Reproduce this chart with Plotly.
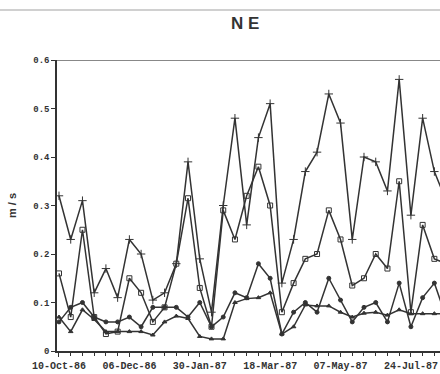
import plotly.graph_objects as go

# sample index (irregular sampling dates, labelled every 6th sample)
idx = list(range(34))
tick_idx = [0, 6, 12, 18, 24, 30]
tick_labels = ["10-Oct-86", "06-Dec-86", "30-Jan-87", "18-Mar-87", "07-May-87", "24-Jul-87"]
y_ticks = [0, 0.1, 0.2, 0.3, 0.4, 0.5, 0.6]

series_a = [0.32, 0.23, 0.31, 0.12, 0.17, 0.11, 0.23, 0.20, 0.105, 0.12, 0.18, 0.39, 0.19, 0.08,
            0.30, 0.48, 0.26, 0.44, 0.51, 0.14, 0.23, 0.37, 0.41, 0.53, 0.47, 0.23, 0.40, 0.39,
            0.33, 0.56, 0.28, 0.48, 0.37, 0.31]
series_b = [0.16, 0.07, 0.25, 0.07, 0.035, 0.04, 0.15, 0.12, 0.06, 0.09, 0.18, 0.315, 0.13, 0.05,
            0.29, 0.23, 0.32, 0.38, 0.30, 0.08, 0.14, 0.19, 0.20, 0.29, 0.23, 0.135, 0.15, 0.20,
            0.17, 0.35, 0.08, 0.26, 0.19, 0.18]
series_c = [0.06, 0.09, 0.10, 0.07, 0.06, 0.06, 0.07, 0.05, 0.09, 0.09, 0.09, 0.07, 0.10, 0.05,
            0.07, 0.12, 0.11, 0.18, 0.15, 0.035, 0.08, 0.10, 0.08, 0.15, 0.105, 0.06, 0.09, 0.10,
            0.06, 0.14, 0.05, 0.11, 0.14, 0.07]
series_d = [0.07, 0.04, 0.085, 0.065, 0.04, 0.04, 0.04, 0.04, 0.033, 0.06, 0.072, 0.067, 0.03, 0.025,
            0.025, 0.10, 0.108, 0.11, 0.12, 0.035, 0.05, 0.095, 0.093, 0.093, 0.08, 0.07, 0.078, 0.08,
            0.074, 0.085, 0.077, 0.077, 0.077, 0.077]

ink = "#333333"
fig = go.Figure()
styles = [
    (series_a, "cross-thin", 6),
    (series_b, "square-open", 5),
    (series_c, "circle", 4),
    (series_d, "triangle-up", 4),
]
for vals, sym, sz in styles:
    fig.add_trace(go.Scatter(
        x=idx, y=vals, mode="lines+markers",
        line=dict(color=ink, width=1.5),
        marker=dict(symbol=sym, size=sz, color=ink, line=dict(color=ink, width=1)),
        showlegend=False, cliponaxis=True,
    ))

fig.update_layout(
    width=440, height=374,
    margin=dict(l=57, r=0, t=60, b=23),
    paper_bgcolor="white", plot_bgcolor="white",
    title=dict(text="N E", x=0.557, xref="container", xanchor="center",
               y=0.938, yref="container", yanchor="middle",
               font=dict(family="Liberation Sans", size=17, color=ink, weight="bold")),
    xaxis=dict(
        range=[-0.17, 32.48], tickmode="array", tickvals=tick_idx, ticktext=tick_labels,
        showgrid=False, zeroline=False, showline=True, linecolor=ink, linewidth=1.5,
        ticks="outside", ticklen=4, tickcolor=ink,
        minor=dict(dtick=1, tick0=0, ticks="outside", ticklen=3, tickcolor=ink),
        tickfont=dict(family="Liberation Mono", size=10, color=ink, weight="bold"),
        automargin=False,
    ),
    yaxis=dict(
        range=[0, 0.6], tickmode="array", tickvals=y_ticks,
        ticktext=["0", "0.1", "0.2", "0.3", "0.4", "0.5", "0.6"],
        showgrid=False, zeroline=False, showline=True, linecolor=ink, linewidth=1.5,
        ticks="outside", ticklen=4, tickcolor=ink,
        tickfont=dict(family="Liberation Mono", size=9, color=ink, weight="bold"),
        title=dict(text="m / s", standoff=14,
                   font=dict(family="Liberation Sans", size=11, color=ink, weight="bold")),
        automargin=False,
    ),
    shapes=[
        dict(type="line", xref="paper", yref="y", x0=0, x1=1, y0=0.6, y1=0.6,
             line=dict(color="#888888", width=2)),
        dict(type="line", xref="paper", yref="paper", x0=-0.16, x1=1.0, y0=1.172, y1=1.172,
             line=dict(color="#d0d0d0", width=2)),
    ],
)

fig.write_html("out.html")
